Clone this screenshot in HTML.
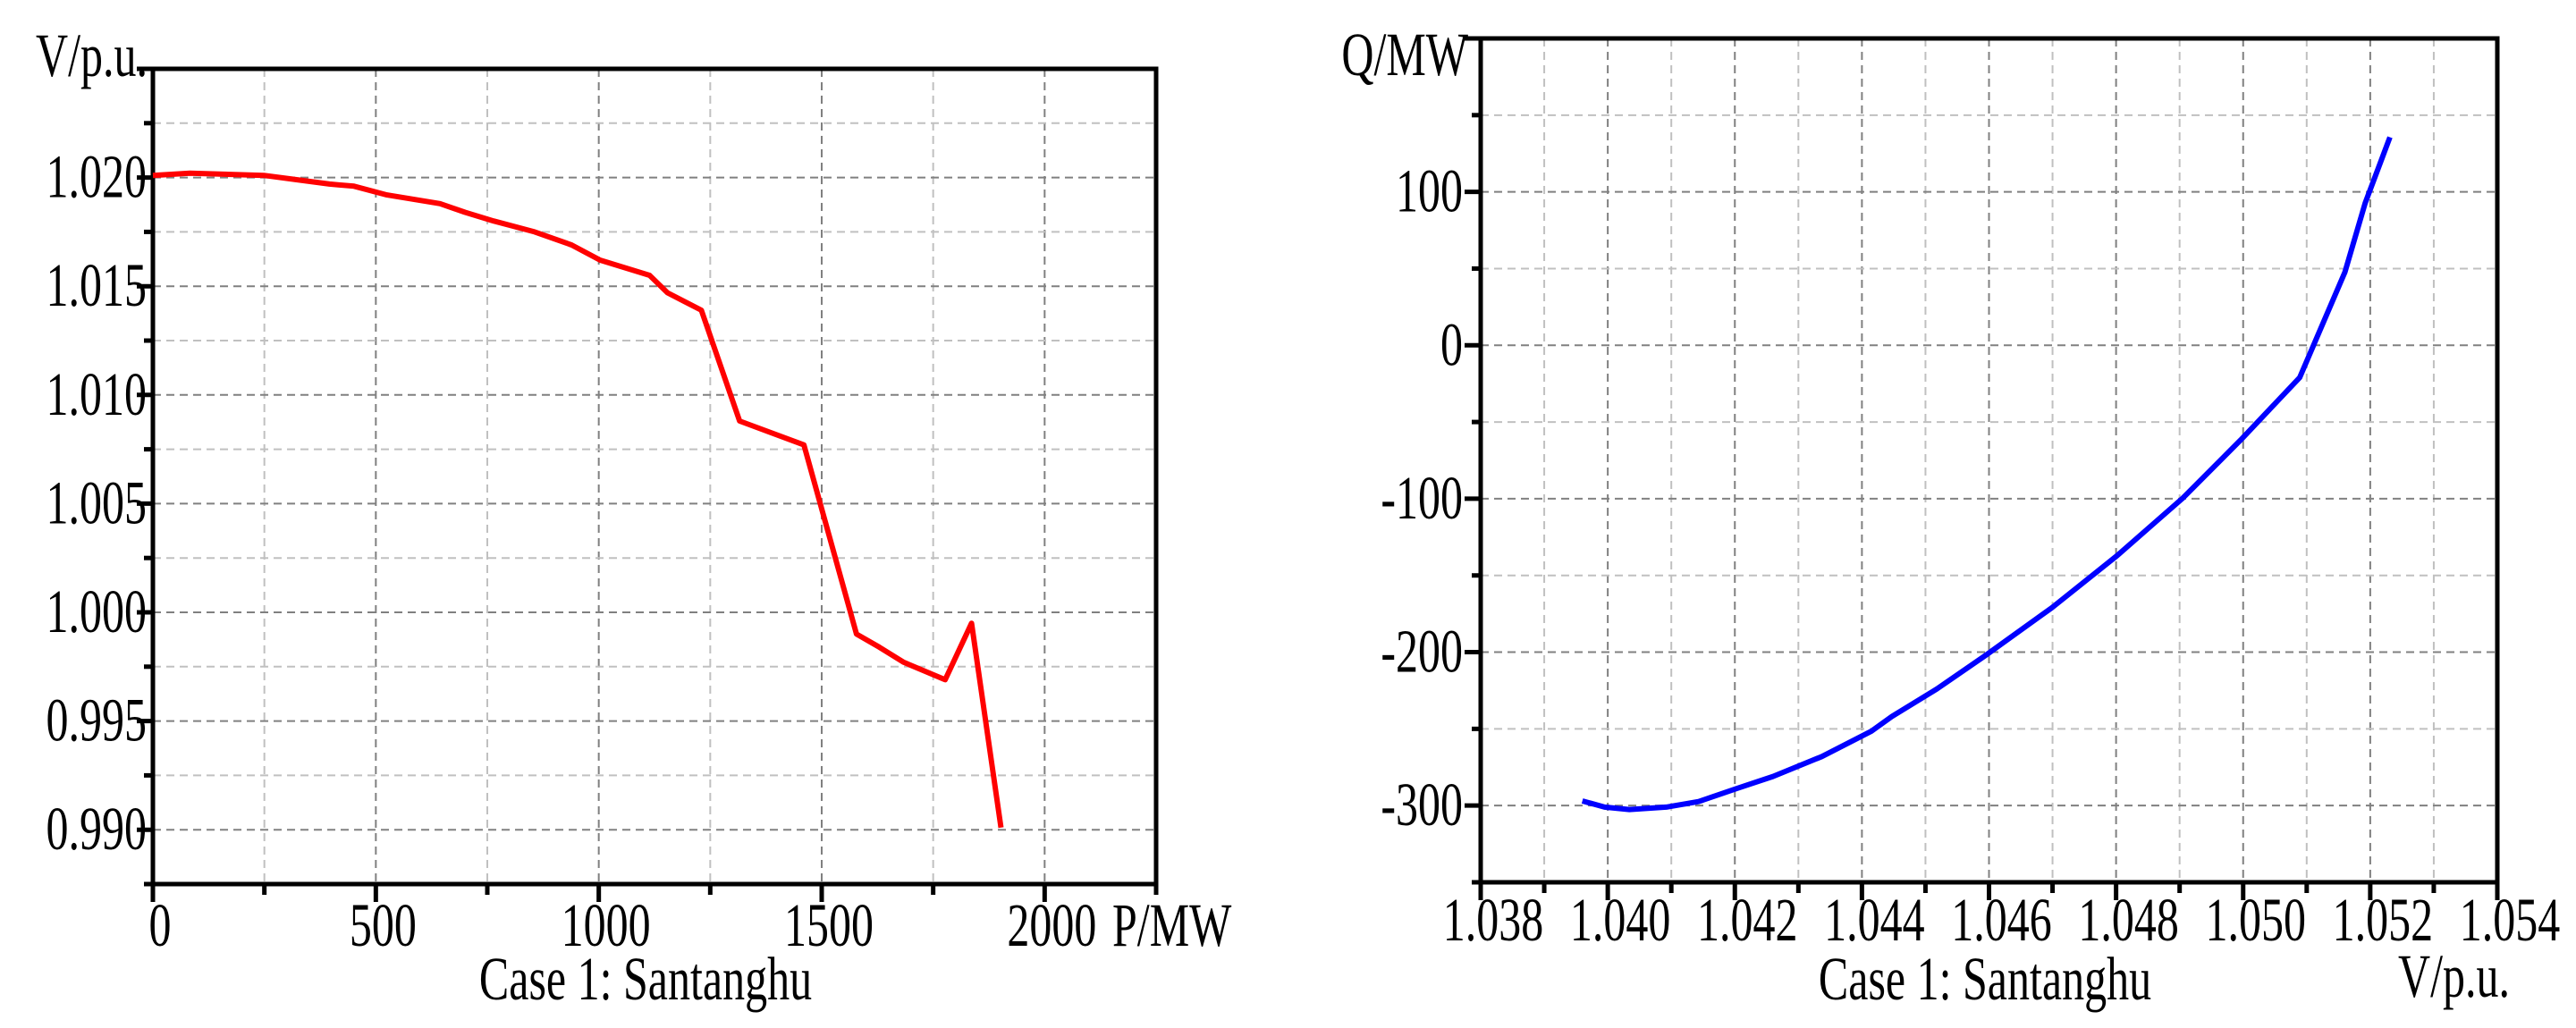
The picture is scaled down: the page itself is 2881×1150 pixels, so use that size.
<!DOCTYPE html>
<html><head><meta charset="utf-8"><style>
html,body{margin:0;padding:0;background:#fff;}
svg{display:block;font-family:"Liberation Serif",serif;}
</style></head><body>
<svg id="chart" width="2881" height="1150" viewBox="0 0 2881 1150" xmlns="http://www.w3.org/2000/svg"></svg>
<script>
// Left chart data
const leftP = [0,83,249,322,396,451,525,644,700,764,856,939,1003,1114,1154,1230,1316,1460,1578,1629,1684,1777,1836,1902];
const leftV = [1.0201,1.0202,1.0201,1.0199,1.0197,1.0196,1.0192,1.0188,1.0184,1.0180,1.0175,1.0169,1.0162,1.0155,1.0147,1.0139,1.0088,1.0077,0.9990,0.9984,0.9977,0.9969,0.9995,0.9901];
const leftXTicks = [0,500,1000,1500,2000];
const leftXTickLabels = ["0","500","1000","1500","2000"];
const leftYTicks = [0.990,0.995,1.000,1.005,1.010,1.015,1.020];
const leftYTickLabels = ["0.990","0.995","1.000","1.005","1.010","1.015","1.020"];
// Right chart data
const rightV = [1.0396,1.03995,1.04034,1.04092,1.04143,1.04202,1.0426,1.04337,1.04415,1.04447,1.04518,1.04595,1.04699,1.04802,1.04905,1.04996,1.05089,1.0516,1.05192,1.05231];
const rightQ = [-297,-301,-302.6,-301,-297.4,-289,-281,-268,-251.5,-242,-224,-202,-171,-137,-99.6,-61.8,-21,47.6,92.7,135.6];
const rightXTicks = [1.038,1.040,1.042,1.044,1.046,1.048,1.050,1.052,1.054];
const rightXTickLabels = ["1.038","1.040","1.042","1.044","1.046","1.048","1.050","1.052","1.054"];
const rightYTicks = [-300,-200,-100,0,100];
const rightYTickLabels = ["-300","-200","-100","0","100"];

const NS="http://www.w3.org/2000/svg";
const svg=document.getElementById('chart');
const FS=50, SY=1.38;
function mk(tag,attrs,parent){const e=document.createElementNS(NS,tag);for(const k in attrs)e.setAttribute(k,attrs[k]);(parent||svg).appendChild(e);return e;}
function txt(parent,s,x,y,anchor){
  return mk('text',{x:0,y:0,'font-size':FS,'text-anchor':anchor,transform:'translate('+x+','+y+') scale(1,'+SY+')'},parent);
}

function drawChart(cfg){
  const g=mk('g',{});
  
  
  const sx=v=>cfg.x0+(v-cfg.xmin)/(cfg.xmax-cfg.xmin)*(cfg.x1-cfg.x0);
  const sy=v=>cfg.y1-(v-cfg.ymin)/(cfg.ymax-cfg.ymin)*(cfg.y1-cfg.y0);
  for(let i=0;;i++){
    const v=cfg.xmin+i*cfg.xMinor; if(v>cfg.xmax+1e-9)break;
    const major=Math.abs((v/cfg.xMajor)-Math.round(v/cfg.xMajor))<1e-6;
    const x=sx(v);
    if(i>0 && v<cfg.xmax-1e-9){
      const l=mk('line',{x1:x,x2:x,y1:cfg.y0,y2:cfg.y1,stroke:major?'#808080':'#c0c0c0','stroke-width':2,'stroke-dasharray':'9,6'},g);
      
      
    }
    const t=mk('line',{x1:x,x2:x,y1:cfg.y1,y2:cfg.y1+(major?20:12),stroke:'#000','stroke-width':5},g);
    
    
  }
  for(let i=0;;i++){
    const v=cfg.ymin+i*cfg.yMinor; if(v>cfg.ymax+1e-9)break;
    const major=Math.abs((v/cfg.yMajor)-Math.round(v/cfg.yMajor))<1e-6;
    const y=sy(v);
    if(i>0 && v<cfg.ymax-1e-9){
      const l=mk('line',{x1:cfg.x0,x2:cfg.x1,y1:y,y2:y,stroke:major?'#808080':'#c0c0c0','stroke-width':2,'stroke-dasharray':'9,6'},g);
      
      
    }
    const t=mk('line',{x1:cfg.x0-(major?18:10),x2:cfg.x0,y1:y,y2:y,stroke:'#000','stroke-width':5},g);
    
    
  }
  const fr=mk('rect',{x:cfg.x0,y:cfg.y0,width:cfg.x1-cfg.x0,height:cfg.y1-cfg.y0,fill:'none',stroke:'#000','stroke-width':5},g);
  
  
  cfg.xTicks.forEach((v,i)=>{
    const t=txt(g,'',sx(v)+cfg.xLabOff,cfg.xLabY,'middle');
    t.textContent=cfg.xLabels[i];
    
    
  });
  cfg.yTicks.forEach((v,i)=>{
    const t=txt(g,'',cfg.yLabX,sy(v)+22,'end');
    t.textContent=cfg.yLabels[i];
    
    
  });
  const pts=cfg.xs.map((v,i)=>sx(v).toFixed(1)+','+sy(cfg.ys[i]).toFixed(1)).join(' ');
  const pl=mk('polyline',{points:pts,fill:'none',stroke:cfg.color,'stroke-width':6,'stroke-linejoin':'round'},g);
  
  
  return g;
}
const gl=drawChart({name:'left-chart',seriesName:'voltage-line',x0:171,x1:1293,y0:77,y1:989,xmin:0,xmax:2250,ymin:0.9875,ymax:1.025,
  xMinor:250,xMajor:500,yMinor:0.0025,yMajor:0.005,xTicks:leftXTicks,xLabels:leftXTickLabels,yTicks:leftYTicks,yLabels:leftYTickLabels,
  xLabOff:8,xLabY:1058,yLabX:164,xs:leftP,ys:leftV,color:'#ff0000'});
const gr=drawChart({name:'right-chart',seriesName:'reactive-power-line',x0:1656,x1:2793,y0:43,y1:987,xmin:1.038,xmax:1.054,ymin:-350,ymax:200,
  xMinor:0.001,xMajor:0.002,yMinor:50,yMajor:100,xTicks:rightXTicks,xLabels:rightXTickLabels,yTicks:rightYTicks,yLabels:rightYTickLabels,
  xLabOff:14,xLabY:1052,yLabX:1636,xs:rightV,ys:rightQ,color:'#0000ff'});
function label(s,x,y,anchor,name,parent){
  const t=txt(parent,'',x,y,anchor);
  t.textContent=s;
  
  
}
label('V/p.u.',165,85,'end','y-axis-title',gl);
label('P/MW',1244,1058,'start','x-axis-title',gl);
label('Case 1: Santanghu',722,1118,'middle','chart-caption',gl);
label('Q/MW',1642,84,'end','y-axis-title',gr);
label('V/p.u.',2682,1115,'start','x-axis-title',gr);
label('Case 1: Santanghu',2220,1118,'middle','chart-caption',gr);
</script>
</body></html>
